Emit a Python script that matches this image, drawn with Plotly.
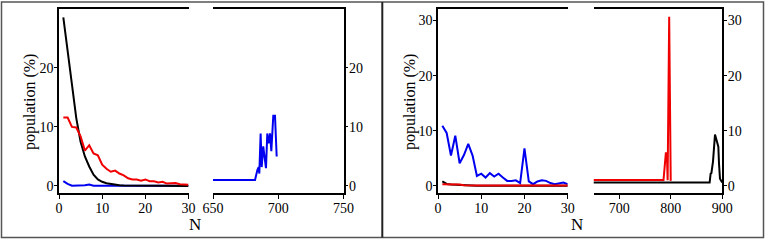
import plotly.graph_objects as go

W, H = 765, 241

# ---------------- data ----------------
N = list(range(1, 31))

# Panel A, N = 1..30
a_black = [28.6, 22.6, 16.7, 11.5, 7.5, 5.0, 3.3, 1.9, 1.1, 0.7, 0.45, 0.3, 0.18, 0.1, 0.06,
           0.04, 0.03, 0.02, 0.02, 0.01, 0.01, 0.01, 0.01, 0.01, 0.0, 0.0, 0.0, 0.0, 0.0, 0.0]
a_red = [11.6, 11.6, 10.0, 9.9, 8.4, 6.0, 6.9, 5.5, 5.2, 3.6, 2.9, 2.4, 2.6, 2.1, 1.8,
         1.3, 1.1, 1.1, 0.9, 1.1, 0.8, 0.8, 0.6, 0.7, 0.4, 0.4, 0.5, 0.3, 0.3, 0.2]
a_blue = [0.8, 0.35, 0.05, 0.05, 0.05, 0.1, 0.25, 0.05, 0.05, 0.05, 0.05, 0.05, 0.05, 0.05, 0.05,
          0.05, 0.05, 0.05, 0.05, 0.05, 0.05, 0.05, 0.05, 0.05, 0.05, 0.05, 0.05, 0.05, 0.05, 0.05]

# Panel A, high-N part (blue only)
a2_blue_N = [650, 682.2, 684.0, 685.0, 685.5, 686.5, 687.3, 688.5, 690.6, 691.6, 692.6,
             693.7, 694.7, 696.2, 697.5, 698.8]
a2_blue = [1.0, 1.0, 2.7, 3.2, 2.1, 8.9, 3.2, 6.7, 3.0, 8.9, 7.2, 8.9, 5.9, 11.9, 11.9, 5.0]

# Panel B, N = 1..30
b_blue = [10.9, 9.6, 5.5, 9.1, 4.1, 5.6, 7.6, 5.5, 1.8, 2.2, 1.5, 2.3, 1.7, 2.2, 1.5,
          0.9, 0.9, 1.0, 0.5, 6.8, 0.8, 0.3, 0.8, 1.0, 0.9, 0.5, 0.3, 0.4, 0.6, 0.3]
b_black = [0.8, 0.35, 0.25, 0.2, 0.1, 0.05, 0.03, 0.02, 0.02, 0.01, 0.01, 0.01, 0.01, 0.01, 0.01,
           0.01, 0.01, 0.01, 0.01, 0.01, 0.01, 0.01, 0.01, 0.01, 0.01, 0.01, 0.01, 0.01, 0.01, 0.01]
b_red = [0.3, 0.3, 0.3, 0.35, 0.25, 0.1, 0.05, 0.05, 0.05, 0.05, 0.05, 0.05, 0.05, 0.05, 0.05,
         0.05, 0.05, 0.05, 0.05, 0.05, 0.05, 0.05, 0.05, 0.05, 0.05, 0.05, 0.05, 0.05, 0.05, 0.05]

# Panel B, high-N part
b2_red_N = [650, 786, 790.5, 792.5, 794, 797, 800]
b2_red = [1.05, 1.05, 5.9, 5.9, 1.0, 30.7, 0.9]
b2_black_N = [650, 875.6, 877.5, 879, 882.1, 884, 886, 887.9, 890.6, 892.5, 893.8, 895.7, 900]
b2_black = [0.6, 0.6, 2.2, 2.3, 4.4, 7.1, 9.3, 8.7, 7.4, 7.1, 4.0, 1.3, 0.6]

# ---------------- layout helpers ----------------
def px_x(p):
    return p / W

def px_y(p):
    return 1 - p / H

FONT = "Liberation Serif, Times New Roman, serif"
RED = "#f00000"
BLUE = "#0000f0"
BLACK = "#000000"
LW = 2

fig = go.Figure()

def add(x, y, color, xa, ya):
    fig.add_trace(go.Scatter(x=x, y=y, mode="lines", line=dict(color=color, width=LW),
                             xaxis=xa, yaxis=ya, showlegend=False, hoverinfo="skip"))

add(N, a_blue, BLUE, "x", "y")
add(N, a_black, BLACK, "x", "y")
add(N, a_red, RED, "x", "y")
add(a2_blue_N, a2_blue, BLUE, "x2", "y2")

add(N, b_blue, BLUE, "x3", "y3")
add(N, b_black, BLACK, "x3", "y3")
add(N, b_red, RED, "x3", "y3")
add(b2_red_N, b2_red, RED, "x4", "y4")
add(b2_black_N, b2_black, BLACK, "x4", "y4")

ydom = [px_y(193), px_y(9)]
tickfont = dict(family=FONT, size=14, color="black")

def xax(dom, rng, tv, anchor):
    return dict(domain=[px_x(dom[0]), px_x(dom[1])], range=rng, anchor=anchor,
                showline=True, mirror=True, linecolor="black", linewidth=1.5,
                ticks="outside", ticklen=4, tickwidth=1.2, tickcolor="black",
                ticklabelstandoff=-3,
                tickvals=tv, showgrid=False, zeroline=False, tickfont=tickfont,
                automargin=False)

def yax(rng, tv, anchor, side):
    return dict(domain=ydom, range=rng, anchor=anchor, side=side,
                showline=True, linecolor="black", linewidth=1.5,
                ticks="outside", ticklen=3, tickwidth=1.2, tickcolor="black",
                ticklabelstandoff=-2,
                tickvals=tv, showgrid=False, zeroline=False, tickfont=tickfont,
                automargin=False)

fig.update_layout(
    width=W, height=H, margin=dict(l=0, r=0, t=0, b=0, pad=0, autoexpand=False),
    paper_bgcolor="white", plot_bgcolor="white",
    font=dict(family=FONT, color="black"),
    xaxis=xax([59, 188.5], [0, 30], [0, 10, 20, 30], "y"),
    yaxis=yax([-1.2, 30], [0, 10, 20], "x", "left"),
    xaxis2=xax([213, 343.5], [650, 750], [650, 700, 750], "y2"),
    yaxis2=yax([-1.2, 30], [0, 10, 20], "x2", "right"),
    xaxis3=xax([438, 567.7], [0, 30], [0, 10, 20, 30], "y3"),
    yaxis3=yax([-1.3, 32.1], [0, 10, 20, 30], "x3", "left"),
    xaxis4=xax([593.5, 722.2], [650, 900], [700, 800, 900], "y4"),
    yaxis4=yax([-1.3, 32.1], [0, 10, 20, 30], "x4", "right"),
)

ann = []
for xc in (30, 410):
    ann.append(dict(x=px_x(xc), y=px_y(102), xref="paper", yref="paper", text="population (%)",
                    textangle=-90, showarrow=False, font=dict(family=FONT, size=16, color="black"),
                    xanchor="center", yanchor="middle"))
for xc in (195, 577):
    ann.append(dict(x=px_x(xc), y=px_y(224), xref="paper", yref="paper", text="N",
                    showarrow=False, font=dict(family=FONT, size=17, color="black"),
                    xanchor="center", yanchor="middle"))
fig.update_layout(annotations=ann)

fig.update_layout(shapes=[
    dict(type="rect", xref="paper", yref="paper", x0=px_x(1.5), x1=px_x(763.5),
         y0=px_y(237.5), y1=px_y(2), line=dict(color="#555555", width=1.5)),
    dict(type="line", xref="paper", yref="paper", x0=px_x(382.3), x1=px_x(382.3),
         y0=px_y(237.5), y1=px_y(2), line=dict(color="#222222", width=2)),
])

fig.write_html("out.html", config={"displayModeBar": False},
               post_script="document.body.style.margin='0px';document.body.style.padding='0px';")
